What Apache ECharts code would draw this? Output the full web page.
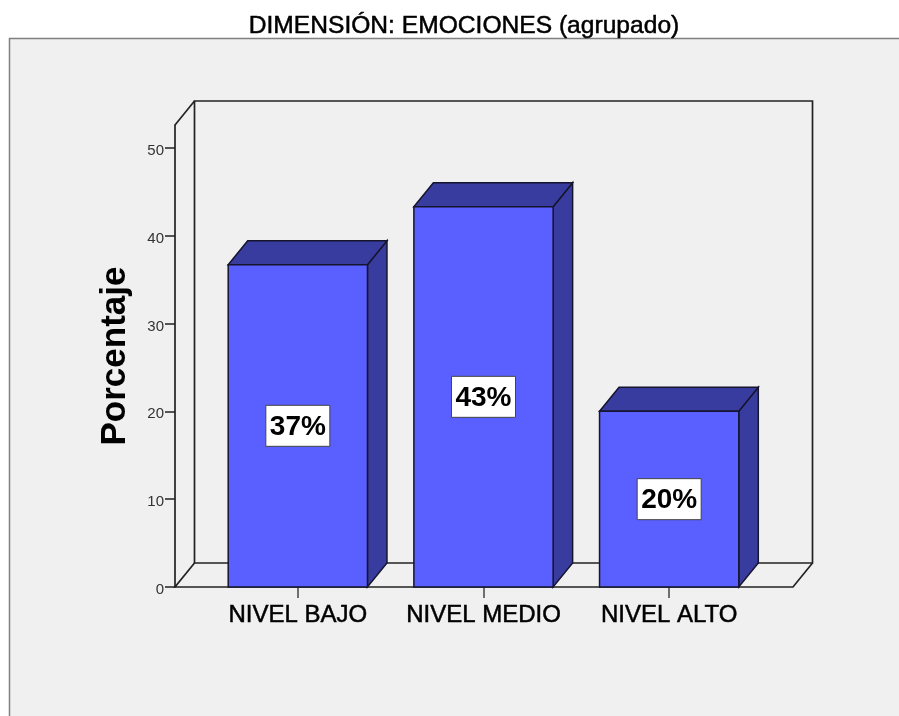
<!DOCTYPE html>
<html>
<head>
<meta charset="utf-8">
<style>
  html, body { margin: 0; padding: 0; background: #fff; }
  #chart { width: 899px; height: 716px; }
</style>
<script src="https://cdn.jsdelivr.net/npm/echarts@6/dist/echarts.min.js"></script>
</head>
<body>
<div id="chart"></div>
<script>
const categories = ['NIVEL BAJO', 'NIVEL MEDIO', 'NIVEL ALTO'];
const percentages = [36.7, 43.3, 20];
const barLabels = ['37%', '43%', '20%'];
const yTicks = [0, 10, 20, 30, 40, 50];
const yMax = 52.6;

// 3D look: how far the back of the box sits from the front, in pixels
const depthX = 19.5;
const depthY = -24;
const axisOffset = 30;

const frontColor = '#5a5fff';
const sideColor = '#393c9f';
const edgeColor = '#15152e';
const wallLine = { fill: 'none', stroke: '#222', lineWidth: 1.7 };
const fontFamily = '"Liberation Sans", Arial, sans-serif';

const chart = echarts.init(document.getElementById('chart'));

const renderWalls = (params, api) => {
  const band = api.size([1, 0])[0];
  const left = api.coord([0, 0])[0] - band / 2 - axisOffset;
  const right = api.coord([2, 0])[0] + band / 2 + axisOffset + 1;
  const bottom = api.coord([0, 0])[1];
  const top = api.coord([0, yMax])[1];
  return {
    type: 'group',
    children: [
      {
        type: 'rect',
        shape: { x: left + depthX, y: top + depthY, width: right - left, height: bottom - top },
        style: wallLine
      },
      {
        type: 'polyline',
        shape: { points: [[left, top], [left + depthX, top + depthY]] },
        style: wallLine
      },
      {
        type: 'polyline',
        shape: { points: [[left + depthX, bottom + depthY], [left, bottom], [right, bottom], [right + depthX, bottom + depthY]] },
        style: wallLine
      }
    ]
  };
};

const renderBar = (params, api) => {
  const idx = api.value(0);
  const topPoint = api.coord([idx, api.value(1)]);
  const basePoint = api.coord([idx, 0]);
  const width = api.size([1, 0])[0] * 0.75;
  const x0 = topPoint[0] - width / 2;
  const x1 = topPoint[0] + width / 2;
  const yTop = topPoint[1];
  const yBase = basePoint[1];
  const edge = { stroke: edgeColor, lineWidth: 1.5 };
  return {
    type: 'group',
    children: [
      {
        type: 'polygon',
        shape: { points: [[x1, yTop], [x1 + depthX, yTop + depthY], [x1 + depthX, yBase + depthY], [x1, yBase]] },
        style: { fill: sideColor, ...edge }
      },
      {
        type: 'polygon',
        shape: { points: [[x0, yTop], [x0 + depthX, yTop + depthY], [x1 + depthX, yTop + depthY], [x1, yTop]] },
        style: { fill: sideColor, ...edge }
      },
      {
        type: 'rect',
        shape: { x: x0, y: yTop, width: x1 - x0, height: yBase - yTop },
        style: { fill: frontColor, ...edge }
      },
      {
        type: 'rect',
        shape: { x: topPoint[0] - 32, y: (yTop + yBase) / 2 - 20.5, width: 64, height: 41 },
        style: { fill: '#fff', stroke: '#444', lineWidth: 1 }
      },
      {
        type: 'text',
        style: {
          text: barLabels[idx],
          x: topPoint[0],
          y: (yTop + yBase) / 2 + 1,
          align: 'center',
          verticalAlign: 'middle',
          font: 'bold 28px ' + fontFamily,
          fill: '#000'
        }
      }
    ]
  };
};

chart.setOption({
  animation: false,
  backgroundColor: '#fff',
  title: {
    text: 'DIMENSIÓN: EMOCIONES (agrupado)',
    left: 459,
    top: 9,
    textAlign: 'center',
    textStyle: {
      fontFamily: fontFamily,
      fontSize: 24.6,
      fontWeight: 'normal',
      color: '#000',
      textBorderColor: '#000',
      textBorderWidth: 0.5
    }
  },
  graphic: [
    {
      type: 'rect',
      z: -10,
      shape: { x: 9.5, y: 38.5, width: 900, height: 700 },
      style: { fill: '#f0f0f0', stroke: '#808080', lineWidth: 1.5 }
    }
  ],
  grid: { left: 205, width: 557, top: 125, height: 462 },
  xAxis: {
    type: 'category',
    data: categories,
    axisLine: { show: false },
    axisTick: { show: true, alignWithLabel: true, length: 11, lineStyle: { color: '#444', width: 1.5 } },
    axisLabel: {
      interval: 0,
      hideOverlap: false,
      margin: 16,
      color: '#000',
      fontSize: 24,
      fontFamily: fontFamily,
      textBorderColor: '#000',
      textBorderWidth: 0.5
    }
  },
  yAxis: {
    type: 'value',
    min: 0,
    max: yMax,
    offset: axisOffset,
    name: 'Porcentaje',
    nameLocation: 'middle',
    nameGap: 42,
    nameTextStyle: {
      color: '#000',
      fontSize: 35,
      fontWeight: 'bold',
      fontFamily: fontFamily
    },
    splitLine: { show: false },
    axisLine: { show: true, lineStyle: { color: '#222', width: 1.7 } },
    axisTick: { show: true, customValues: yTicks, length: 10, lineStyle: { color: '#222', width: 1.5 } },
    axisLabel: {
      customValues: yTicks,
      margin: 11,
      formatter: v => `{a|${v}}`,
      rich: {
        a: {
          color: '#333',
          fontSize: 15,
          fontFamily: fontFamily,
          verticalAlign: 'top',
          lineHeight: 15,
          height: 21
        }
      }
    }
  },
  series: [
    {
      type: 'custom',
      clip: false,
      z: 1,
      silent: true,
      renderItem: renderWalls,
      data: [[0, 0]]
    },
    {
      type: 'custom',
      clip: false,
      z: 2,
      renderItem: renderBar,
      encode: { x: 0, y: 1 },
      data: percentages.map((v, i) => [i, v])
    }
  ]
});
</script>
</body>
</html>
